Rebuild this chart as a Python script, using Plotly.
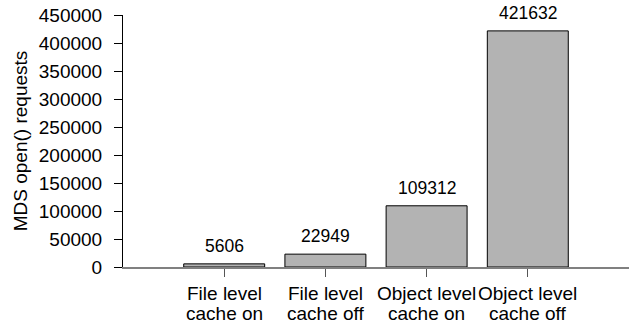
import plotly.graph_objects as go

# MDS open() request counts per cache configuration
categories = ["File level\ncache on", "File level\ncache off",
              "Object level\ncache on", "Object level\ncache off"]
requests = [5606, 22949, 109312, 421632]
y_ticks = [0, 50000, 100000, 150000, 200000, 250000, 300000, 350000, 400000, 450000]

FONT = "Liberation Sans, Arial, sans-serif"
positions = list(range(len(categories)))

fig = go.Figure()
fig.add_trace(go.Bar(
    x=positions,
    y=requests,
    width=0.8,
    marker=dict(color="#b3b3b3", line=dict(color="#000000", width=1)),
    showlegend=False,
))

annotations = []
# value labels above each bar
for pos, val in zip(positions, requests):
    annotations.append(dict(
        x=pos, y=val, xref="x", yref="y", text=str(val), showarrow=False,
        yanchor="bottom", yshift=6, font=dict(family=FONT, size=17.5, color="#000"),
    ))
# two-line category labels under the axis
for pos, cat in zip(positions, categories):
    for i, line in enumerate(cat.split("\n")):
        annotations.append(dict(
            x=pos, y=0, xref="x", yref="paper", text=line, showarrow=False,
            yanchor="top", yshift=-14 - 19.7 * i,
            font=dict(family=FONT, size=19, color="#000"),
        ))

fig.update_layout(
    width=633, height=328,
    margin=dict(l=123, r=4, t=15, b=61),
    paper_bgcolor="white", plot_bgcolor="white",
    font=dict(family=FONT, size=19, color="#000"),
    annotations=annotations,
    bargap=0.2,
)
fig.update_xaxes(
    range=[-1, 4], tickvals=positions, ticktext=[""] * len(positions),
    showline=True, linecolor="#808080", linewidth=1.5,
    ticks="outside", ticklen=8, tickcolor="#555555", tickwidth=1,
    showgrid=False, zeroline=False,
)
fig.update_yaxes(
    range=[0, 450000], tickvals=y_ticks, ticktext=[str(v) for v in y_ticks],
    showline=True, linecolor="#000000", linewidth=1,
    ticks="outside", ticklen=8, tickcolor="#000000", tickwidth=1,
    ticklabelstandoff=8,
    showgrid=False, zeroline=False,
    tickfont=dict(family=FONT, size=19, color="#000"),
    title=dict(text="MDS open() requests", standoff=6,
               font=dict(family=FONT, size=19, color="#000")),
)

fig.write_html("out.html")
